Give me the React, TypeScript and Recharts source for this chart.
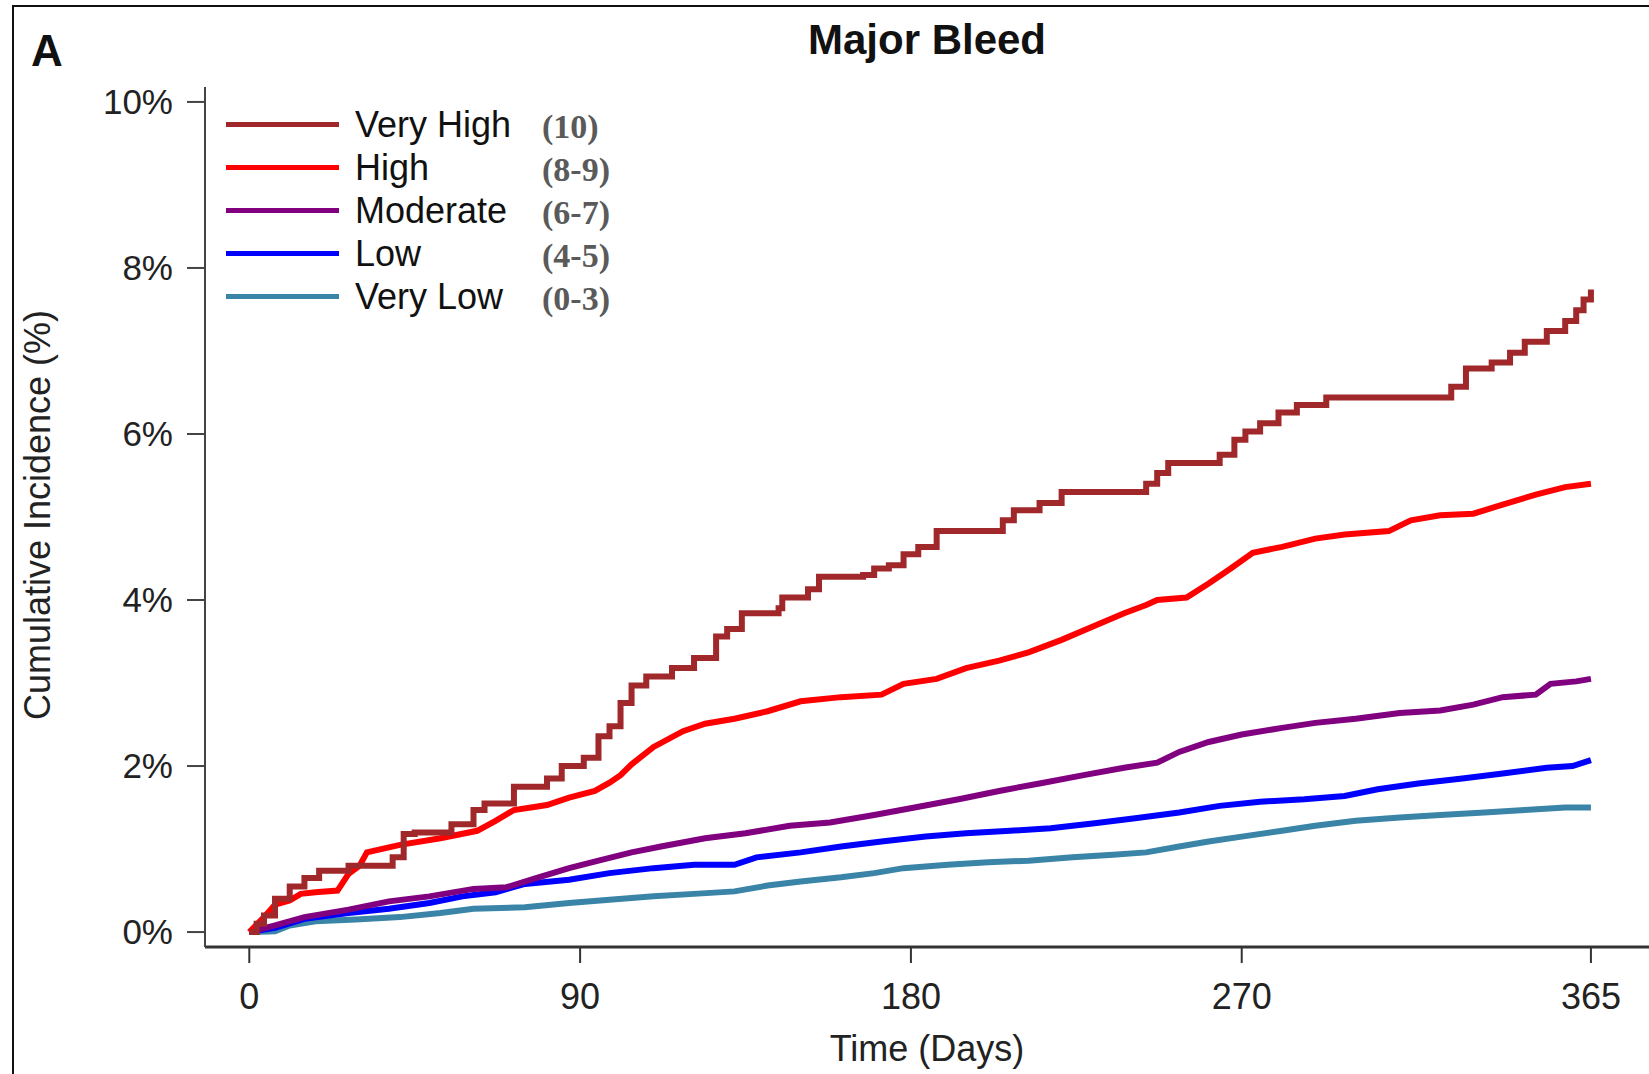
import { LineChart, Line, XAxis, YAxis } from 'recharts'

// axis ticks
const dayTicks = [0, 90, 180, 270, 365]
const pctTicks = [0, 2, 4, 6, 8, 10]

// legend
const seriesNames = ['Very High', 'High', 'Moderate', 'Low', 'Very Low']
const seriesScores = ['(10)', '(8-9)', '(6-7)', '(4-5)', '(0-3)']
const seriesColors = ['#A0282A', '#FF0000', '#800080', '#0000FF', '#3A84A8']

// cumulative incidence (%)
const veryHighDays = [0, 2, 4, 7, 11, 15, 19, 27, 39, 42, 45, 55, 61, 64, 72, 81, 85, 91, 95, 98, 101, 104, 108, 115, 121, 127, 130, 134, 144, 145, 152, 155, 167, 170, 174, 178, 182, 187, 205, 208, 215, 221, 244, 247, 250, 264, 268, 271, 275, 280, 285, 293, 327, 331, 338, 343, 347, 353, 358, 361, 363, 365]
const veryHighPct = [0, 0.1, 0.2, 0.4, 0.55, 0.65, 0.74, 0.8, 0.9, 1.18, 1.2, 1.3, 1.47, 1.55, 1.75, 1.85, 2.0, 2.1, 2.36, 2.48, 2.76, 2.97, 3.08, 3.18, 3.3, 3.56, 3.65, 3.84, 3.9, 4.03, 4.13, 4.28, 4.3, 4.38, 4.42, 4.55, 4.64, 4.83, 4.96, 5.08, 5.17, 5.3, 5.4, 5.53, 5.65, 5.75, 5.93, 6.03, 6.13, 6.26, 6.35, 6.44, 6.57, 6.79, 6.86, 6.98, 7.11, 7.24, 7.36, 7.49, 7.62, 7.74]

const highDays = [0, 4, 7, 11, 14, 18, 24, 27, 30, 32, 41, 52, 62, 67, 72, 81, 87, 94, 98, 101, 104, 110, 118, 124, 132, 141, 150, 161, 172, 178, 187, 195, 204, 212, 221, 230, 238, 244, 247, 255, 261, 267, 273, 281, 290, 298, 310, 316, 324, 333, 341, 350, 358, 365]
const highPct = [0, 0.18, 0.33, 0.38, 0.46, 0.48, 0.5, 0.7, 0.8, 0.96, 1.05, 1.13, 1.22, 1.34, 1.47, 1.53, 1.62, 1.7, 1.8, 1.89, 2.02, 2.23, 2.42, 2.51, 2.57, 2.66, 2.78, 2.83, 2.86, 2.99, 3.05, 3.18, 3.27, 3.37, 3.52, 3.69, 3.84, 3.94, 4.0, 4.03, 4.2, 4.38, 4.57, 4.64, 4.74, 4.79, 4.83, 4.96, 5.02, 5.04, 5.15, 5.27, 5.36, 5.4]

const moderateDays = [0, 7, 15, 27, 38, 49, 61, 70, 78, 87, 95, 104, 112, 124, 135, 147, 158, 170, 181, 193, 204, 215, 227, 238, 247, 253, 261, 270, 281, 290, 301, 313, 324, 333, 341, 350, 354, 361, 365]
const moderatePct = [0, 0.08, 0.18, 0.27, 0.37, 0.43, 0.52, 0.54, 0.65, 0.77, 0.86, 0.96, 1.03, 1.13, 1.19, 1.28, 1.32, 1.41, 1.5, 1.6, 1.7, 1.79, 1.89, 1.98, 2.04, 2.17, 2.29, 2.38, 2.46, 2.52, 2.57, 2.64, 2.67, 2.74, 2.83, 2.86, 2.99, 3.02, 3.05]

const lowDays = [0, 7, 15, 27, 38, 49, 58, 67, 75, 87, 98, 110, 121, 132, 138, 150, 161, 172, 184, 195, 207, 218, 230, 241, 253, 264, 275, 287, 298, 307, 318, 330, 341, 353, 360, 365]
const lowPct = [0, 0.05, 0.16, 0.23, 0.28, 0.35, 0.43, 0.48, 0.58, 0.63, 0.71, 0.77, 0.81, 0.81, 0.9, 0.96, 1.03, 1.09, 1.15, 1.19, 1.22, 1.25, 1.31, 1.37, 1.44, 1.52, 1.57, 1.6, 1.64, 1.72, 1.79, 1.85, 1.91, 1.98, 2.0, 2.07]

const veryLowDays = [0, 7, 11, 18, 29, 41, 52, 61, 75, 87, 98, 110, 121, 132, 141, 150, 161, 170, 178, 190, 201, 212, 224, 235, 244, 253, 261, 270, 281, 290, 301, 313, 324, 336, 347, 358, 365]
const veryLowPct = [0, 0.01, 0.08, 0.13, 0.15, 0.18, 0.23, 0.28, 0.3, 0.35, 0.39, 0.43, 0.46, 0.49, 0.56, 0.61, 0.66, 0.71, 0.77, 0.81, 0.84, 0.86, 0.9, 0.93, 0.96, 1.03, 1.09, 1.15, 1.22, 1.28, 1.34, 1.38, 1.41, 1.44, 1.47, 1.5, 1.5]

const toPoints = (days: number[], pct: number[]) => days.map((d, i) => ({ day: d, value: pct[i] }))

const curves = [
  { data: toPoints(veryHighDays, veryHighPct), type: 'stepAfter' },
  { data: toPoints(highDays, highPct), type: 'linear' },
  { data: toPoints(moderateDays, moderatePct), type: 'linear' },
  { data: toPoints(lowDays, lowPct), type: 'linear' },
  { data: toPoints(veryLowDays, veryLowPct), type: 'linear' },
]

const SANS = '"Liberation Sans", Arial, Helvetica, sans-serif'
const SERIF = '"Liberation Serif", "Times New Roman", serif'

function LegendBox() {
  return (
    <div style={{ position: 'absolute', left: 226, top: 103, fontFamily: SANS }}>
      {seriesNames.map((name, i) => (
        <div key={name} style={{ position: 'relative', height: 43, width: 400 }}>
          <div
            style={{
              position: 'absolute',
              left: 0,
              top: 19,
              width: 113,
              height: 5,
              background: seriesColors[i],
            }}
          />
          <span style={{ position: 'absolute', left: 129, top: 2, fontSize: 36, lineHeight: '40px', color: '#111' }}>
            {name}
          </span>
          <span
            style={{
              position: 'absolute',
              left: 316,
              top: 4,
              fontSize: 34,
              lineHeight: '40px',
              fontFamily: SERIF,
              fontWeight: 'bold',
              color: '#5a5a5a',
            }}
          >
            {seriesScores[i]}
          </span>
        </div>
      ))}
    </div>
  )
}

export default function App() {
  return (
    <div
      style={{
        position: 'absolute',
        left: 0,
        top: 0,
        width: 1649,
        height: 1074,
        background: '#fff',
        overflow: 'hidden',
        fontFamily: SANS,
      }}
    >
      <div
        style={{
          position: 'absolute',
          left: 12,
          top: 5,
          width: 1649,
          height: 1074,
          borderLeft: '2px solid #111',
          borderTop: '2px solid #111',
        }}
      />
      <div style={{ position: 'absolute', left: 31, top: 29, fontSize: 44, lineHeight: 1, fontWeight: 'bold', color: '#111' }}>A</div>
      <div
        style={{
          position: 'absolute',
          left: 627,
          width: 600,
          top: 19,
          textAlign: 'center',
          fontSize: 42,
          lineHeight: 1,
          fontWeight: 'bold',
          color: '#111',
        }}
      >
        Major Bleed
      </div>
      <div
        style={{
          position: 'absolute',
          left: 38 - 300,
          top: 515 - 20,
          width: 600,
          height: 40,
          lineHeight: '40px',
          textAlign: 'center',
          fontSize: 36,
          color: '#222',
          transform: 'rotate(-90deg)',
        }}
      >
        Cumulative Incidence (%)
      </div>
      <div
        style={{
          position: 'absolute',
          left: 627,
          width: 600,
          top: 1029,
          lineHeight: '40px',
          textAlign: 'center',
          fontSize: 36,
          color: '#222',
        }}
      >
        Time (Days)
      </div>

      <div style={{ position: 'absolute', left: 0, top: 0 }}>
        <LineChart width={1649} height={1074} margin={{ top: 87, right: 0, bottom: 67, left: 105 }}>
          <XAxis
            type="number"
            dataKey="day"
            domain={[-12.05, 380.8]}
            ticks={dayTicks}
            allowDataOverflow
            height={60}
            axisLine={{ stroke: '#333', strokeWidth: 3 }}
            tickLine={{ stroke: '#333', strokeWidth: 2 }}
            tickSize={16}
            tickMargin={20}
            tick={{ fontSize: 36, fill: '#222', fontFamily: SANS }}
          />
          <YAxis
            type="number"
            domain={[-0.18, 10.18]}
            ticks={pctTicks}
            allowDataOverflow
            width={100}
            axisLine={{ stroke: '#444', strokeWidth: 2 }}
            tickLine={{ stroke: '#444', strokeWidth: 2 }}
            tickSize={18}
            tickMargin={14}
            tickFormatter={(v: number) => `${v}%`}
            tick={{ fontSize: 35, fill: '#222', fontFamily: SANS }}
          />
          {curves
            .map((c, i) => (
              <Line
                key={seriesNames[i]}
                data={c.data}
                dataKey="value"
                type={c.type as 'linear' | 'stepAfter'}
                stroke={seriesColors[i]}
                strokeWidth={6}
                dot={false}
                isAnimationActive={false}
              />
            ))
            .reverse()}
        </LineChart>
      </div>
      <LegendBox />
    </div>
  )
}
